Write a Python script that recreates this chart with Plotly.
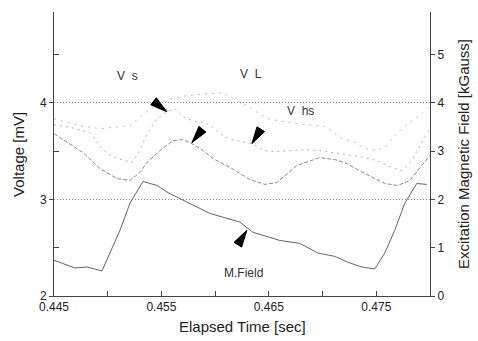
import math
import plotly.graph_objects as go

# ---- data ----
t_vl = [0.4450, 0.44649, 0.44770, 0.44928, 0.45086, 0.45207, 0.45300, 0.45365, 0.45486, 0.45607,
        0.45700, 0.45784, 0.45877, 0.45979, 0.46156, 0.46323, 0.46463, 0.46574, 0.46760, 0.46974,
        0.47114, 0.47207, 0.47393, 0.47579, 0.47700, 0.47812, 0.47905, 0.47998]
v_l = [3.680, 3.577, 3.485, 3.320, 3.216, 3.196, 3.278, 3.381, 3.505, 3.608,
       3.619, 3.577, 3.515, 3.423, 3.320, 3.206, 3.155, 3.175, 3.351, 3.433,
       3.412, 3.381, 3.268, 3.165, 3.144, 3.196, 3.320, 3.454]

t_vs = [0.4450, 0.44667, 0.44835, 0.44909, 0.44993, 0.45095, 0.45226, 0.45300, 0.45365, 0.45458,
        0.45551, 0.45626, 0.45700, 0.45812, 0.45905, 0.45998, 0.46072, 0.46156, 0.46342, 0.46463,
        0.46556, 0.46695, 0.46835, 0.46974, 0.47160, 0.47347, 0.47505, 0.47644, 0.47737, 0.47830,
        0.47923, 0.47998]
v_s = [3.773, 3.742, 3.691, 3.577, 3.474, 3.423, 3.381, 3.505, 3.680, 3.835,
       3.907, 3.938, 3.856, 3.804, 3.794, 3.732, 3.660, 3.619, 3.577, 3.505,
       3.495, 3.505, 3.515, 3.505, 3.474, 3.443, 3.402, 3.330, 3.299, 3.402,
       3.588, 3.732]

t_vhs = [0.4450, 0.44742, 0.44928, 0.45207, 0.45374, 0.45533, 0.45719, 0.45905, 0.46072, 0.46277,
         0.46491, 0.46695, 0.46853, 0.47040, 0.47160, 0.47300, 0.47393, 0.47505, 0.47598, 0.47672,
         0.47737, 0.47812, 0.47923, 0.47998]
v_hs = [3.835, 3.763, 3.732, 3.763, 3.918, 4.021, 4.072, 4.093, 4.103, 3.979,
        3.835, 3.794, 3.773, 3.753, 3.639, 3.588, 3.526, 3.505, 3.557, 3.660,
        3.732, 3.794, 3.887, 3.969]

t_field = [0.4450, 0.44695, 0.44807, 0.44947, 0.45114, 0.45207, 0.45328, 0.45458, 0.45561, 0.45737,
           0.45951, 0.4623, 0.46351, 0.46602, 0.46788, 0.46956, 0.47114, 0.47235, 0.47365, 0.47486,
           0.47579, 0.47672, 0.47765, 0.47877, 0.4797]
b_field = [0.74, 0.58, 0.60, 0.52, 1.36, 1.92, 2.37, 2.29, 2.14, 1.94,
           1.71, 1.53, 1.32, 1.15, 1.09, 0.89, 0.82, 0.70, 0.60, 0.56,
           0.89, 1.36, 1.92, 2.33, 2.31]

x_ticks = [0.445, 0.455, 0.465, 0.475]
y_ticks = [2, 3, 4]
y2_ticks = [0, 1, 2, 3, 4, 5]

# curve labels and their pointer arrows (tip in data units, direction in screen px)
label_text = ["V  s", "V  L", "V  hs", "M.Field"]
label_t = [0.45188, 0.46333, 0.46798, 0.46267]
label_v = [4.278, 4.299, 3.918, 2.237]
tip_t = [0.45551, 0.45784, 0.46342, 0.46295]
tip_v = [3.907, 3.588, 3.577, 2.680]
dir_x = [14, -11, -8, 10]
dir_y = [11, 14, 13, -16]

FONT = "Liberation Sans, Arial, sans-serif"
AX = "#444"
X_RANGE = [0.445, 0.48]
Y_RANGE = [2, 4.94]
PLOT_W, PLOT_H = 376, 284

# arrow-head polygons computed from tip + direction
px_per_x = PLOT_W / (X_RANGE[1] - X_RANGE[0])
px_per_y = PLOT_H / (Y_RANGE[1] - Y_RANGE[0])
head_len, head_half = 17, 4.5
poly_x, poly_y = [], []
for tx, ty, dx, dy in zip(tip_t, tip_v, dir_x, dir_y):
    n = math.hypot(dx, dy)
    ux, uy = dx / n, dy / n          # screen direction (y down)
    bx, by = -ux * head_len, -uy * head_len
    px_, py_ = -uy * head_half, ux * head_half
    pts = [(0, 0), (bx + px_, by + py_), (bx - px_, by - py_), (0, 0)]
    for sx, sy in pts:
        poly_x.append(tx + sx / px_per_x)
        poly_y.append(ty - sy / px_per_y)
    poly_x.append(None)
    poly_y.append(None)

fig = go.Figure()
fig.add_trace(go.Scatter(x=t_vs, y=v_s, mode="lines", line=dict(color="#b4b4b4", width=1, dash="2px,4px"), showlegend=False))
fig.add_trace(go.Scatter(x=t_vhs, y=v_hs, mode="lines", line=dict(color="#bdbdbd", width=1, dash="2px,5px"), showlegend=False))
fig.add_trace(go.Scatter(x=t_vl, y=v_l, mode="lines", line=dict(color="#8a8a8a", width=1, dash="4px,2px"), showlegend=False))
fig.add_trace(go.Scatter(x=t_field, y=b_field, mode="lines", yaxis="y2", line=dict(color="#666", width=1), showlegend=False))
fig.add_trace(go.Scatter(x=poly_x, y=poly_y, mode="lines", fill="toself", fillcolor="#000",
                         line=dict(color="#000", width=1), showlegend=False, hoverinfo="skip"))

fig.update_layout(
    width=478, height=341,
    margin=dict(l=54, r=48, t=12, b=45),
    paper_bgcolor="white", plot_bgcolor="white",
    font=dict(family=FONT, size=12, color="#222"),
    xaxis=dict(range=X_RANGE, tickvals=x_ticks, tickformat=".3f",
               showgrid=False, zeroline=False, showline=True, linecolor=AX, linewidth=1,
               ticks="inside", ticklen=5, tickcolor=AX,
               minor=dict(tickvals=[0.450, 0.460, 0.470], ticks="inside", ticklen=5, tickcolor=AX),
               tickfont=dict(size=12)),
    yaxis=dict(range=Y_RANGE, tickvals=y_ticks, showgrid=True, gridcolor="#888",
               griddash="1px,2px", gridwidth=1, zeroline=False, showline=True,
               linecolor=AX, linewidth=1, ticks="outside", ticklen=4, tickcolor=AX,
               minor=dict(tickvals=[2.5, 3.5, 4.5], ticks="inside", ticklen=5, tickcolor=AX),
               tickfont=dict(size=12)),
    yaxis2=dict(range=[0, 5.88], tickvals=y2_ticks, overlaying="y", side="right",
                showgrid=False, zeroline=False, showline=True, linecolor=AX, linewidth=1,
                ticks="outside", ticklen=4, tickcolor=AX, tickfont=dict(size=12)),
)

# axis titles
fig.add_annotation(text="Voltage [mV]", xref="paper", yref="paper", x=-0.096, y=0.5,
                   textangle=-90, showarrow=False, font=dict(size=15, color="#222"),
                   xanchor="center", yanchor="middle")
fig.add_annotation(text="Excitation Magnetic Field [kGauss]", xref="paper", yref="paper",
                   x=1.088, y=0.5, textangle=-90, showarrow=False,
                   font=dict(size=15, color="#222"), xanchor="center", yanchor="middle")
fig.add_annotation(text="Elapsed Time [sec]", xref="paper", yref="paper", x=0.5, y=-0.106,
                   showarrow=False, font=dict(size=15, color="#222"),
                   xanchor="center", yanchor="middle")

for txt, lx, ly in zip(label_text, label_t, label_v):
    fig.add_annotation(text=txt, x=lx, y=ly, xref="x", yref="y", showarrow=False,
                       font=dict(size=12, color="#333"))

fig.write_html("out.html")
